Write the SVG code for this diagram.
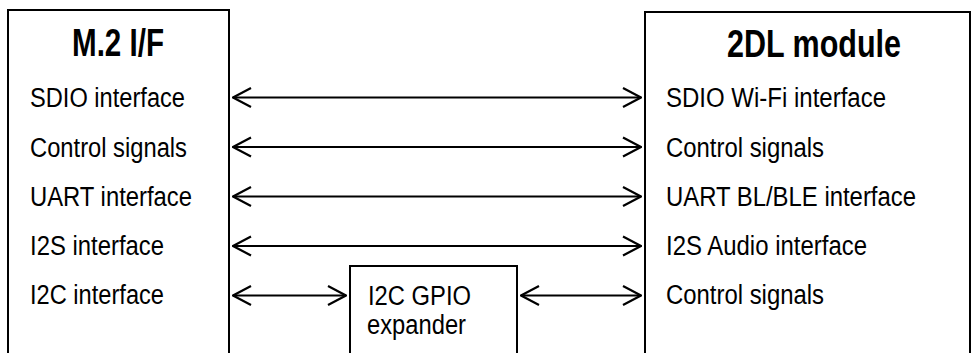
<svg xmlns="http://www.w3.org/2000/svg" width="972" height="353" viewBox="0 0 972 353">
<style>
.box{fill:#fff;stroke:#000;stroke-width:2}
.lbl{font-family:"Liberation Sans",Arial,sans-serif;font-size:27px;fill:#000}
.ttl{font-family:"Liberation Sans",Arial,sans-serif;font-size:38px;font-weight:bold;fill:#000}
.arr{stroke:#000;stroke-width:2;fill:none;marker-start:url(#ah);marker-end:url(#ah)}
</style>
<defs>
<marker id="ah" viewBox="0 0 20 22" refX="19" refY="11" markerWidth="20" markerHeight="22" markerUnits="userSpaceOnUse" orient="auto-start-reverse">
<path d="M1,1.5 L19,11 L1,20.5" fill="none" stroke="#000" stroke-width="2.2"/>
</marker>
</defs>
<rect width="972" height="353" fill="#fff"/>
<g id="m2">
<rect class="box" x="8" y="10" width="221" height="360"/>
<text class="ttl" x="72" y="56" textLength="92" lengthAdjust="spacingAndGlyphs">M.2 I/F</text>
<text class="lbl" x="30" y="107" textLength="155" lengthAdjust="spacingAndGlyphs">SDIO interface</text>
<text class="lbl" x="30" y="156.5" textLength="157" lengthAdjust="spacingAndGlyphs">Control signals</text>
<text class="lbl" x="30" y="206" textLength="162" lengthAdjust="spacingAndGlyphs">UART interface</text>
<text class="lbl" x="30" y="255" textLength="134" lengthAdjust="spacingAndGlyphs">I2S interface</text>
<text class="lbl" x="30" y="304" textLength="134" lengthAdjust="spacingAndGlyphs">I2C interface</text>
</g>
<g id="module">
<rect class="box" x="645" y="12" width="325" height="360"/>
<text class="ttl" x="727" y="57" textLength="174" lengthAdjust="spacingAndGlyphs">2DL module</text>
<text class="lbl" x="666" y="107" textLength="220" lengthAdjust="spacingAndGlyphs">SDIO Wi-Fi interface</text>
<text class="lbl" x="666" y="156.5" textLength="158" lengthAdjust="spacingAndGlyphs">Control signals</text>
<text class="lbl" x="666" y="206" textLength="250" lengthAdjust="spacingAndGlyphs">UART BL/BLE interface</text>
<text class="lbl" x="666" y="255" textLength="201" lengthAdjust="spacingAndGlyphs">I2S Audio interface</text>
<text class="lbl" x="666" y="304" textLength="158" lengthAdjust="spacingAndGlyphs">Control signals</text>
</g>
<g id="expander">
<rect class="box" x="350" y="266" width="167" height="100"/>
<text class="lbl" x="368" y="305" textLength="103" lengthAdjust="spacingAndGlyphs">I2C GPIO</text>
<text class="lbl" x="367" y="334" textLength="99" lengthAdjust="spacingAndGlyphs">expander</text>
</g>
<g id="connectors">
<line class="arr" x1="233" y1="97.5" x2="641" y2="97.5"/>
<line class="arr" x1="233" y1="147" x2="641" y2="147"/>
<line class="arr" x1="233" y1="196.5" x2="641" y2="196.5"/>
<line class="arr" x1="233" y1="246" x2="641" y2="246"/>
<line class="arr" x1="233" y1="295.5" x2="346" y2="295.5"/>
<line class="arr" x1="521" y1="295.5" x2="641" y2="295.5"/>
</g>
</svg>
